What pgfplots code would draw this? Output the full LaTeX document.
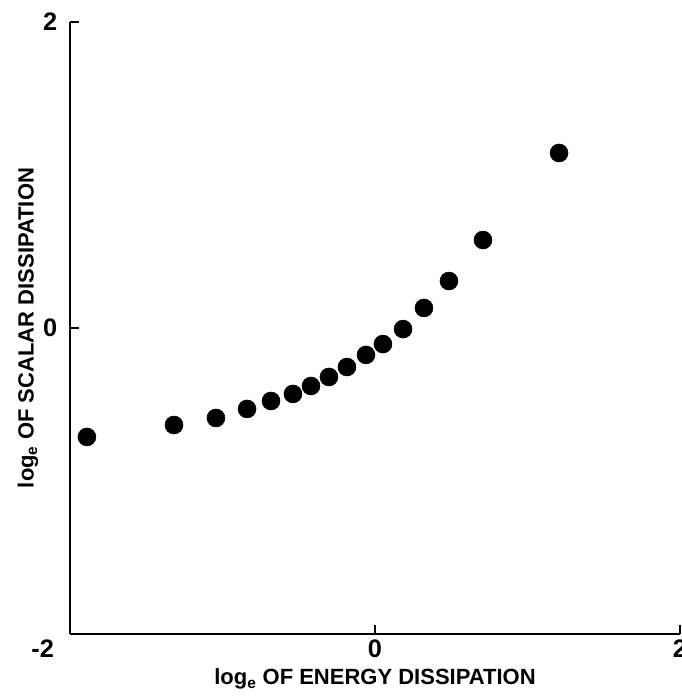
\documentclass[border=0pt]{standalone}
\usepackage{pgfplots}
\pgfplotsset{compat=1.18}
\usepackage{fontspec}
\setmainfont{Liberation Sans}
\begin{document}
\begin{tikzpicture}
\begin{axis}[
    name=ax,
    scale only axis,
    width=457.5pt, height=459pt,
    xmin=-2, xmax=2, ymin=-2, ymax=2,
    axis x line=bottom, axis y line=left,
    axis line style={-, line width=2pt},
    xtick={-2,0,2}, ytick={-2,0,2},
    xticklabels={\makebox[0pt][r]{-2\hspace{12pt}},0,2}, yticklabels={,0,2},
    tick align=inside,
    major tick length=7pt,
    tick style={line width=2pt, black},
    ticklabel style={font=\fontsize{19}{19}\selectfont\bfseries},
    yticklabel style={xshift=-6pt},
    xticklabel style={yshift=-1pt},
    label style={font=\fontsize{16.5}{18}\selectfont\bfseries},
    xlabel={log\textsubscript{e} OF ENERGY DISSIPATION},
    ylabel={log\textsubscript{e} OF SCALAR DISSIPATION},
    xlabel style={at={(axis description cs:0.5,0)}, anchor=center, yshift=-34pt},
    ylabel style={at={(axis description cs:0,0.5)}, anchor=center, yshift=31.5pt},
    clip=false,
]
\addplot[only marks, mark=*, mark size=6.75pt, black] coordinates {
    (-1.889,-0.712) (-1.318,-0.634) (-1.043,-0.588) (-0.839,-0.529)
    (-0.682,-0.477) (-0.538,-0.431) (-0.420,-0.379) (-0.302,-0.320)
    (-0.184,-0.255) (-0.059,-0.176) (0.052,-0.105) (0.184,-0.007)
    (0.321,0.131) (0.485,0.307) (0.708,0.575) (1.207,1.144)
};
\end{axis}
\pgfresetboundingbox
\useasboundingbox ([shift={(-52.5pt,-46.5pt)}]ax.south west) rectangle ([shift={(1.5pt,16.5pt)}]ax.north east);
\end{tikzpicture}
\end{document}
